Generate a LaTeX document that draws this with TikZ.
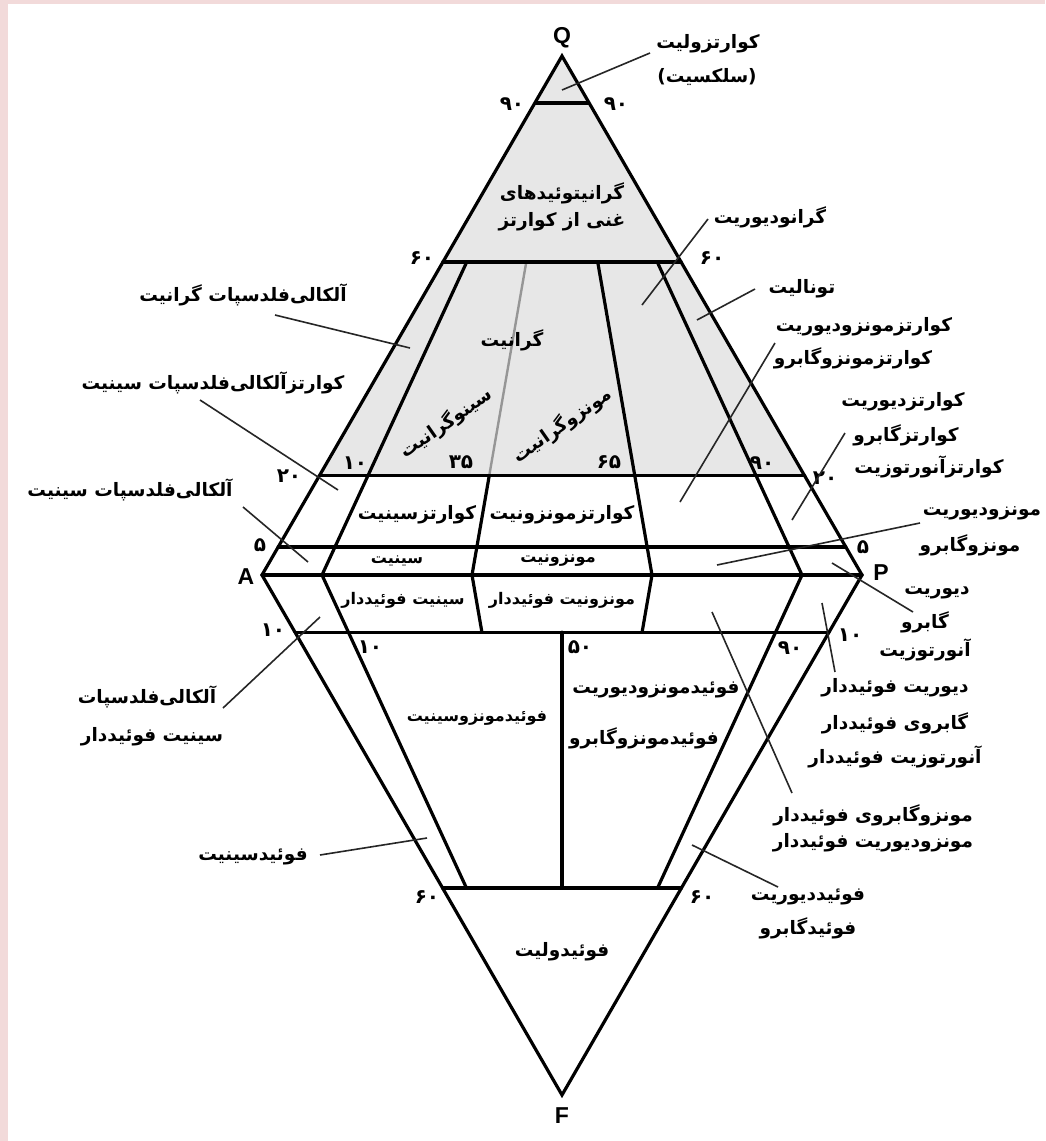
\documentclass[tikz,border=0pt]{standalone}
\usepackage{fontspec}
\setmainfont{DejaVu Sans}
\newfontfamily\fa[Script=Arabic]{DejaVu Sans}
\newfontfamily\lat{Liberation Sans}
\TeXXeTstate=1
\usetikzlibrary{calc}
\definecolor{pinkbg}{RGB}{242,218,218}
\definecolor{qfill}{RGB}{231,231,231}
\definecolor{midgray}{RGB}{150,150,150}
\newcommand{\RL}[1]{\beginR #1\endR}
\tikzset{
  lbl/.style={inner sep=0pt, font=\fontsize{18.5}{18.5}\selectfont\fa\bfseries},
  sml/.style={inner sep=0pt, font=\fontsize{16}{16}\selectfont\fa\bfseries},
  num/.style={inner sep=0pt, font=\fontsize{20}{20}\selectfont\fa\bfseries},
  vtx/.style={inner sep=0pt, font=\fontsize{23}{23}\selectfont\lat\bfseries},
  bnd/.style={line width=3.2pt, line join=round, line cap=round},
  ptr/.style={line width=1.6pt, black!85}
}
\begin{document}
\begin{tikzpicture}[x=1pt,y=-1pt]
\useasboundingbox (0,0) rectangle (1045,1141);
\fill[white] (0,0) rectangle (1045,1141);
\fill[pinkbg] (0,0) rectangle (1045,4);
\fill[pinkbg] (0,0) rectangle (8,1141);

% vertices
\coordinate (Q) at (562,56);
\coordinate (A) at (262,575);
\coordinate (P) at (862,575);
\coordinate (F) at (562,1095);

% horizontal levels
\foreach \n/\t in {90/0.909,60/0.603,20/0.191,5/0.054}{
  \coordinate (L\n) at ($(A)!\t!(Q)$);
  \coordinate (R\n) at ($(P)!\t!(Q)$);
}
\foreach \n/\t in {10/0.110,60/0.602}{
  \coordinate (LF\n) at ($(A)!\t!(F)$);
  \coordinate (RF\n) at ($(P)!\t!(F)$);
}
% base points of ratio lines
\foreach \n/\r in {10/0.10,35/0.35,50/0.50,65/0.65,90/0.90}{
  \coordinate (B\n) at ($(A)!\r!(P)$);
}
\foreach \n in {10,35,65,90}{
  \coordinate (U\n) at ($(B\n)!0.603!(Q)$);
  \coordinate (M\n) at ($(B\n)!0.191!(Q)$);
  \coordinate (D\n) at ($(B\n)!0.110!(F)$);
}
\coordinate (D50) at ($(B50)!0.110!(F)$);
\coordinate (E10) at ($(B10)!0.602!(F)$);
\coordinate (E50) at ($(B50)!0.602!(F)$);
\coordinate (E90) at ($(B90)!0.602!(F)$);

% shading of Q > 20
\fill[qfill] (Q) -- (L20) -- (R20) -- cycle;

% ratio lines
\draw[line width=2.4pt, midgray] (U35) -- (M35);
\draw[bnd] (U10) -- (B10) -- (E10);
\draw[bnd] (M35) -- (B35) -- (D35);
\draw[bnd] (U65) -- (B65) -- (D65);
\draw[bnd] (U90) -- (B90) -- (E90);
\draw[bnd] (D50) -- (E50);

% horizontal lines
\draw[line width=4.2pt] (L90) -- (R90);
\draw[bnd] (L60) -- (R60);
\draw[bnd] (L20) -- (R20);
\draw[bnd] (L5) -- (R5);
\draw[bnd] (A) -- (P);
\draw[bnd] (LF10) -- (RF10);
\draw[bnd] (LF60) -- (RF60);

% outline
\draw[bnd, line join=miter] (Q) -- (A) -- (F) -- (P) -- cycle;

% vertex labels
\node[vtx] (lQ) at (562,38) {Q};
\node[vtx] (lA) at (246,577) {A};
\node[vtx] (lP) at (881,573) {P};
\node[vtx] (lF) at (562,1116) {F};

% numbers
\node[num] (n90l) at (512,104) {۹۰};
\node[num] (n90r) at (616,104) {۹۰};
\node[num] (n60l) at (422,258) {۶۰};
\node[num] (n60r) at (712,258) {۶۰};
\node[num] (n20l) at (289,476) {۲۰};
\node[num] (n20r) at (825,478) {۲۰};
\node[num] (n10u) at (355,463) {۱۰};
\node[num] (n35) at (461,462) {۳۵};
\node[num] (n65) at (609,462) {۶۵};
\node[num] (n90u) at (762,463) {۹۰};
\node[num] (n5l) at (260,545) {۵};
\node[num] (n5r) at (863,547) {۵};
\node[num] (n10l) at (273,630) {۱۰};
\node[num] (n10r) at (850,635) {۱۰};
\node[num] (n10i) at (370,647) {۱۰};
\node[num] (n50) at (580,647) {۵۰};
\node[num] (n90i) at (790,648) {۹۰};
\node[num] (n60bl) at (427,897) {۶۰};
\node[num] (n60br) at (702,897) {۶۰};

% field labels inside
\node[lbl] (qrg1) at (562,193) {\RL{گرانیتوئیدهای}};
\node[lbl] (qrg2) at (562,222) {\RL{غنی از کوارتز}};
\node[lbl] (gran) at (512,340) {\RL{گرانیت}};
\node[lbl, rotate=35] (syg) at (446,423) {\RL{سینوگرانیت}};
\node[lbl, rotate=35] (mzg) at (562,425) {\RL{مونزوگرانیت}};
\node[lbl] (qs) at (417,515) {\RL{کوارتزسینیت}};
\node[lbl] (qm) at (562,515) {\RL{کوارتزمونزونیت}};
\node[sml] (sy) at (397,561) {\RL{سینیت}};
\node[sml] (mz) at (558,561) {\RL{مونزونیت}};
\node[sml] (fsy) at (403,600) {\RL{سینیت فوئیددار}};
\node[sml] (fmz) at (562,600) {\RL{مونزونیت فوئیددار}};
\node[sml] (fms) at (477,718) {\RL{فوئیدمونزوسینیت}};
\node[lbl] (fmd1) at (656,690) {\RL{فوئیدمونزودیوریت}};
\node[lbl] (fmd2) at (644,738) {\RL{فوئیدمونزوگابرو}};
\node[lbl] (fol) at (562,952) {\RL{فوئیدولیت}};

% outside labels
\node[lbl] (qz1) at (708,44) {\RL{کوارتزولیت}};
\node[lbl] (qz2) at (707,77) {\RL{(سلکسیت)}};
\node[lbl] (gd) at (770,217) {\RL{گرانودیوریت}};
\node[lbl] (ton) at (802,289) {\RL{تونالیت}};
\node[lbl] (qmd1) at (864,327) {\RL{کوارتزمونزودیوریت}};
\node[lbl] (qmd2) at (853,358) {\RL{کوارتزمونزوگابرو}};
\node[lbl] (qd1) at (903,402) {\RL{کوارتزدیوریت}};
\node[lbl] (qd2) at (906,435) {\RL{کوارتزگابرو}};
\node[lbl] (qd3) at (929,467) {\RL{کوارتزآنورتوزیت}};
\node[lbl] (md1) at (982,513) {\RL{مونزودیوریت}};
\node[lbl] (md2) at (970,545) {\RL{مونزوگابرو}};
\node[lbl] (dg1) at (937,593) {\RL{دیوریت}};
\node[lbl] (dg2) at (925,622) {\RL{گابرو}};
\node[lbl] (dg3) at (925,650) {\RL{آنورتوزیت}};
\node[lbl] (fdg1) at (895,688) {\RL{دیوریت فوئیددار}};
\node[lbl] (fdg2) at (895,723) {\RL{گابروی فوئیددار}};
\node[lbl] (fdg3) at (895,757) {\RL{آنورتوزیت فوئیددار}};
\node[lbl] (fmg1) at (873,815) {\RL{مونزوگابروی فوئیددار}};
\node[lbl] (fmg2) at (873,843) {\RL{مونزودیوریت فوئیددار}};
\node[lbl] (fd1) at (808,897) {\RL{فوئیددیوریت}};
\node[lbl] (fd2) at (808,928) {\RL{فوئیدگابرو}};
\node[lbl] (afg) at (243,295) {\RL{آلکالی‌فلدسپات گرانیت}};
\node[lbl] (qafs) at (213,383) {\RL{کوارتزآلکالی‌فلدسپات سینیت}};
\node[lbl] (afs) at (130,490) {\RL{آلکالی‌فلدسپات سینیت}};
\node[lbl] (fafs1) at (147,697) {\RL{آلکالی‌فلدسپات}};
\node[lbl] (fafs2) at (152,737) {\RL{سینیت فوئیددار}};
\node[lbl] (fs) at (253,857) {\RL{فوئیدسینیت}};

% pointer lines
\foreach \s/\e/\sx/\sy/\ex/\ey in {
  pa1/pb1/650/53/562/90,
  pa2/pb2/708/219/642/305,
  pa3/pb3/755/289/697/320,
  pa4/pb4/775/343/680/502,
  pa5/pb5/845/433/792/520,
  pa6/pb6/275/315/410/348,
  pa7/pb7/200/400/338/490,
  pa8/pb8/243/507/308/562,
  pa9/pb9/920/523/717/565,
  pa10/pb10/913/612/832/563,
  pa11/pb11/835/672/822/603,
  pa12/pb12/792/793/712/612,
  pa13/pb13/778/887/692/845,
  pa14/pb14/223/708/320/617,
  pa15/pb15/320/855/427/838}{
  \coordinate (\s) at (\sx,\sy);
  \coordinate (\e) at (\ex,\ey);
  \draw[ptr] (\s) -- (\e);
}
\end{tikzpicture}
\end{document}
